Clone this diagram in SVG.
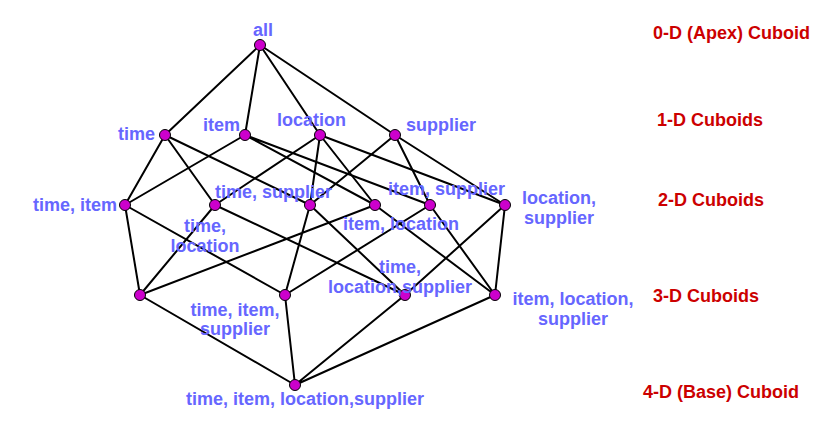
<svg xmlns="http://www.w3.org/2000/svg" width="831" height="433" viewBox="0 0 831 433">
<style>
.e{stroke:#000;stroke-width:2;fill:none}
.n{fill:#CC00CC;stroke:#000;stroke-width:1}
.l{font-family:"Liberation Sans",Arial,sans-serif;font-weight:bold;font-size:18px;fill:#6666FF}
.r{font-family:"Liberation Sans",Arial,sans-serif;font-weight:bold;font-size:18px;fill:#CC0000}
.m{text-anchor:middle}
</style>
<rect width="831" height="433" fill="#fff"/>
<g id="connectors">
<path class="e" d="M260 45L165 135M260 45L245 135M260 45L320 135M260 45L395 135"/>
<path class="e" d="M165 135L125 205M165 135L215 205M165 135L310 205"/>
<path class="e" d="M245 135L125 205M245 135L375 205M245 135L430 205"/>
<path class="e" d="M320 135L215 205M320 135L310 205M320 135L375 205M320 135L505 205"/>
<path class="e" d="M395 135L310 205M395 135L430 205M395 135L505 205"/>
<path class="e" d="M125 205L140 295M125 205L285 295M215 205L140 295M215 205L405 295M310 205L285 295M310 205L405 295M375 205L140 295M375 205L495 295M430 205L285 295M430 205L495 295M505 205L405 295M505 205L495 295"/>
<path class="e" d="M140 295L295 385M285 295L295 385M405 295L295 385M495 295L295 385"/>
</g>
<g id="n_all"><circle class="n" cx="260" cy="45" r="5.5"/><text class="l" x="253" y="36">all</text></g>
<g id="n_time"><circle class="n" cx="165" cy="135" r="5.5"/><text class="l" x="118" y="140">time</text></g>
<g id="n_item"><circle class="n" cx="245" cy="135" r="5.5"/><text class="l" x="203" y="131">item</text></g>
<g id="n_location"><circle class="n" cx="320" cy="135" r="5.5"/><text class="l" x="277" y="126">location</text></g>
<g id="n_supplier"><circle class="n" cx="395" cy="135" r="5.5"/><text class="l" x="406" y="131">supplier</text></g>
<g id="n_time_item"><circle class="n" cx="125" cy="205" r="5.5"/><text class="l" x="33" y="211">time, item</text></g>
<g id="n_time_location"><circle class="n" cx="215" cy="205" r="5.5"/><text class="l m" x="205" y="232">time,</text><text class="l m" x="205" y="252">location</text></g>
<g id="n_time_supplier"><circle class="n" cx="310" cy="205" r="5.5"/><text class="l" x="215" y="198">time, supplier</text></g>
<g id="n_item_location"><circle class="n" cx="375" cy="205" r="5.5"/><text class="l" x="343" y="230">item, location</text></g>
<g id="n_item_supplier"><circle class="n" cx="430" cy="205" r="5.5"/><text class="l" x="388" y="195">item, supplier</text></g>
<g id="n_location_supplier"><circle class="n" cx="505" cy="205" r="5.5"/><text class="l m" x="559" y="204">location,</text><text class="l m" x="559" y="224">supplier</text></g>
<g id="n_time_item_location"><circle class="n" cx="140" cy="295" r="5.5"/></g>
<g id="n_time_item_supplier"><circle class="n" cx="285" cy="295" r="5.5"/><text class="l m" x="235" y="316">time, item,</text><text class="l m" x="235" y="335">supplier</text></g>
<g id="n_time_location_supplier"><circle class="n" cx="405" cy="295" r="5.5"/><text class="l m" x="400" y="273">time,</text><text class="l m" x="400" y="293">location,supplier</text></g>
<g id="n_item_location_supplier"><circle class="n" cx="495" cy="295" r="5.5"/><text class="l m" x="573" y="305">item, location,</text><text class="l m" x="573" y="325">supplier</text></g>
<g id="n_base"><circle class="n" cx="295" cy="385" r="5.5"/><text class="l m" x="305" y="405">time, item, location,supplier</text></g>
<g id="levels">
<text class="r" x="653" y="39">0-D (Apex) Cuboid</text>
<text class="r" x="657" y="126">1-D Cuboids</text>
<text class="r" x="658" y="206">2-D Cuboids</text>
<text class="r" x="653" y="302">3-D Cuboids</text>
<text class="r" x="643" y="398">4-D (Base) Cuboid</text>
</g>
</svg>
